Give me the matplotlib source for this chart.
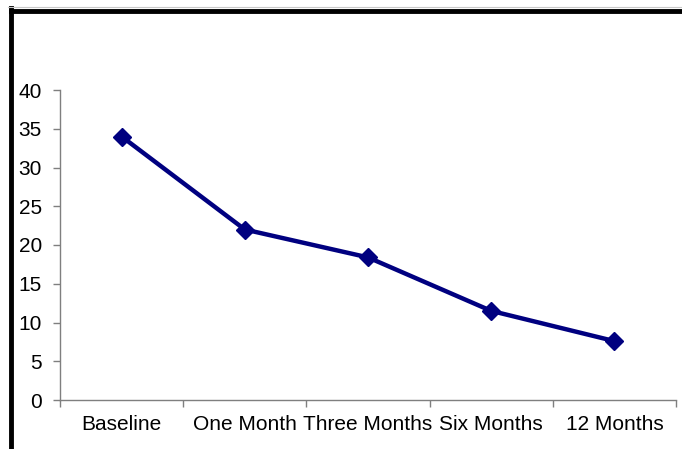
import matplotlib
matplotlib.use('Agg')
import matplotlib.pyplot as plt
from matplotlib.lines import Line2D
import numpy as np

# 데이터
categories = ['Baseline', 'One Month', 'Three Months', 'Six Months', '12 Months']
values = [34, 22, 18.4, 11.5, 7.6]
y_ticks = [0, 5, 10, 15, 20, 25, 30, 35, 40]

plt.rcParams['font.family'] = ['Liberation Sans', 'DejaVu Sans']

W, H = 682, 449
fig = plt.figure(figsize=(W / 100, H / 100), dpi=100)
ax = fig.add_axes([60 / W, (H - 400) / H, 616 / W, 310 / H])

x = np.arange(len(categories))
ax.plot(x, values, color='#000080', linewidth=3.2, marker='D', markersize=9,
        markeredgecolor='#000080', markerfacecolor='#000080')

ax.set_xlim(-0.5, len(categories) - 0.5)
ax.set_ylim(0, 40)
ax.set_yticks(y_ticks)

# 카테고리 경계에 눈금
ax.set_xticks(np.arange(-0.5, len(categories), 1.0))
ax.set_xticklabels([])
ax.set_xticks(x, minor=True)
ax.set_xticklabels(categories, minor=True)

axis_color = '#7f7f7f'
for side in ['top', 'right']:
    ax.spines[side].set_visible(False)
for side in ['left', 'bottom']:
    ax.spines[side].set_color(axis_color)
    ax.spines[side].set_linewidth(1.0)

ax.tick_params(axis='y', which='major', direction='out', length=5, width=1,
               color=axis_color, labelsize=15, pad=8, labelcolor='black')
ax.tick_params(axis='x', which='major', direction='out', length=5, width=1,
               color=axis_color)
ax.tick_params(axis='x', which='minor', length=0, labelsize=15, pad=11,
               labelcolor='black')

# 바깥 테두리 (왼쪽, 위쪽)
fig.add_artist(Line2D([10.5 / W, 10.5 / W], [0, (H - 8) / H], color='black',
                      linewidth=3.5, transform=fig.transFigure, solid_capstyle='projecting'))
fig.add_artist(Line2D([10.5 / W, 1], [(H - 10.5) / H, (H - 10.5) / H], color='black',
                      linewidth=3.5, transform=fig.transFigure, solid_capstyle='projecting'))
fig.add_artist(Line2D([8 / W, 1], [(H - 6.5) / H, (H - 6.5) / H], color='#c8c8c8',
                      linewidth=0.8, transform=fig.transFigure))

fig.savefig('out.png', dpi=100)
